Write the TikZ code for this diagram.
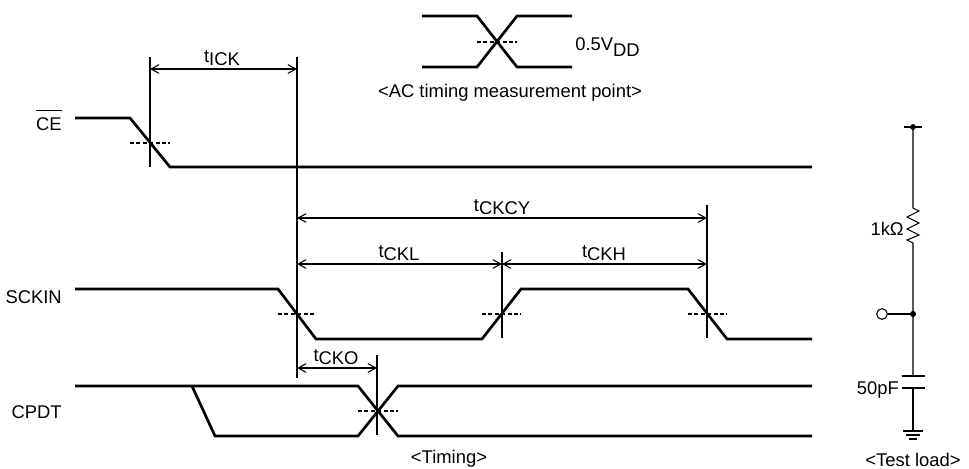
\documentclass[tikz,border=0pt]{standalone}
\usepackage{fontspec}
\setmainfont{Liberation Sans}
\usetikzlibrary{arrows.meta}
\newcommand{\lowsub}[1]{\raisebox{-2.5pt}{#1}}
\newcommand{\lowvdd}[1]{\raisebox{-4.5pt}{#1}}
\begin{document}
\begin{tikzpicture}[x=0.75pt,y=-0.75pt,
  font=\fontsize{13.8}{16}\selectfont,
  sig/.style={line width=2pt, line join=miter},
  ext/.style={line width=0.8pt},
  mid/.style={line width=0.8pt, dash pattern=on 3pt off 1.8pt},
  dim/.style={line width=0.8pt, {Straight Barb[length=6pt,width=6.5pt]}-{Straight Barb[length=6pt,width=6.5pt]}},
  lab/.style={inner sep=0pt, anchor=base},
  sublab/.style={inner sep=0pt, anchor=base east},
  plate/.style={line width=2pt},
  ]
\useasboundingbox (0,0) rectangle (969,468);

% ---------- AC timing measurement point ----------
\draw[sig] (422,16) -- (477,16) -- (517,67) -- (572,67);
\draw[sig] (422,67) -- (477,67) -- (517,16) -- (572,16);
\draw[mid] (477,42) -- (517,42);
\node[inner sep=0pt, anchor=base west] (vdd) at (575,50) {0.5V\lowvdd{DD}};
\node[lab] (acl) at (510,97) {<AC timing measurement point>};

% ---------- signal names ----------
\node[sublab] (lce) at (62,130) {CE};
\draw[line width=0.6pt] ([yshift=4.5pt]lce.north west) -- ([yshift=4.5pt]lce.north east);
\node[sublab] (lsck) at (62,303) {SCKIN};
\node[sublab] (lcp) at (62,418) {CPDT};

% ---------- CE ----------
\draw[sig] (75,118) -- (130,118) -- (170,167) -- (812,167);
\draw[mid] (130,143) -- (170,143);

% ---------- SCKIN ----------
\draw[sig] (75,289) -- (278,289) -- (316,339) -- (482,339) -- (521,289)
           -- (688,289) -- (727,339) -- (812,339);
\draw[mid] (278,314) -- (316,314);
\draw[mid] (482,314) -- (521,314);
\draw[mid] (688,314) -- (727,314);

% ---------- CPDT ----------
\draw[sig] (75,386) -- (358,386) -- (398,436) -- (812,436);
\draw[sig] (192,386) -- (215,436) -- (358,436) -- (398,386) -- (812,386);
\draw[mid] (358,411) -- (398,411);

% ---------- extension lines ----------
\coordinate (e1t) at (150,57);  \coordinate (e1b) at (150,167);
\coordinate (e2t) at (297,57);  \coordinate (e2b) at (297,378);
\coordinate (e3t) at (502,252); \coordinate (e3b) at (502,338);
\coordinate (e4t) at (707,205); \coordinate (e4b) at (707,338);
\coordinate (e5t) at (377,355); \coordinate (e5b) at (377,435);
\draw[ext] (e1t) -- (e1b);
\draw[ext] (e2t) -- (e2b);
\draw[ext] (e3t) -- (e3b);
\draw[ext] (e4t) -- (e4b);
\draw[ext] (e5t) -- (e5b);

% ---------- dimension arrows ----------
\coordinate (ick1) at (150,69);  \coordinate (ick2) at (297,69);
\coordinate (cy1) at (297,218);  \coordinate (cy2) at (707,218);
\coordinate (cl1) at (297,264);  \coordinate (cl2) at (502,264);
\coordinate (ch2) at (707,264);
\coordinate (co1) at (297,368);  \coordinate (co2) at (377,368);
\draw[dim] (ick1) -- (ick2);
\draw[dim] (cy1) -- (cy2);
\draw[dim] (cl1) -- (cl2);
\draw[dim] (cl2) -- (ch2);
\draw[dim] (co1) -- (co2);
\node[lab] (tick) at (222,62.5) {t\lowsub{ICK}};
\node[lab] (tckcy) at (502,211.5) {t\lowsub{CKCY}};
\node[lab] (tckl) at (399,257.5) {t\lowsub{CKL}};
\node[lab] (tckh) at (604,257.5) {t\lowsub{CKH}};
\node[lab] (tcko) at (336,361.5) {t\lowsub{CKO}};

\node[lab] (tim) at (449,463) {<Timing>};

% ---------- test load ----------
\coordinate (vt) at (913,127);
\coordinate (j) at (913,314);
\coordinate (cp1) at (913,376);
\coordinate (cp2) at (913,388);
\coordinate (gnd) at (913,431);
\draw[ext] (904,127) -- (922,127);
\fill (vt) circle[radius=2.2pt];
\draw[ext] (vt) -- (913,208) -- (919,211) -- (907,217) -- (919,223) -- (907,229)
           -- (919,235) -- (907,240) -- (913,243) -- (cp1);
\draw[plate] (902,376) -- (925,376);
\draw[plate] (902,388) -- (925,388);
\draw[ext] (cp2) -- (gnd);
\draw[ext] (903,431) -- (923,431);
\draw[ext] (906,435) -- (920,435);
\draw[ext] (909,439) -- (917,439);
\fill (j) circle[radius=2.3pt];
\node[circle, draw, line width=0.8pt, inner sep=0pt, minimum size=8pt] (term) at (882,314) {};
\draw[ext] (term) -- (j);
\node[sublab] (r1) at (904,235) {1kΩ};
\node[sublab] (c1) at (899,394) {50pF};
\node[lab] (tl) at (913,466) {<Test load>};
\end{tikzpicture}
\end{document}
